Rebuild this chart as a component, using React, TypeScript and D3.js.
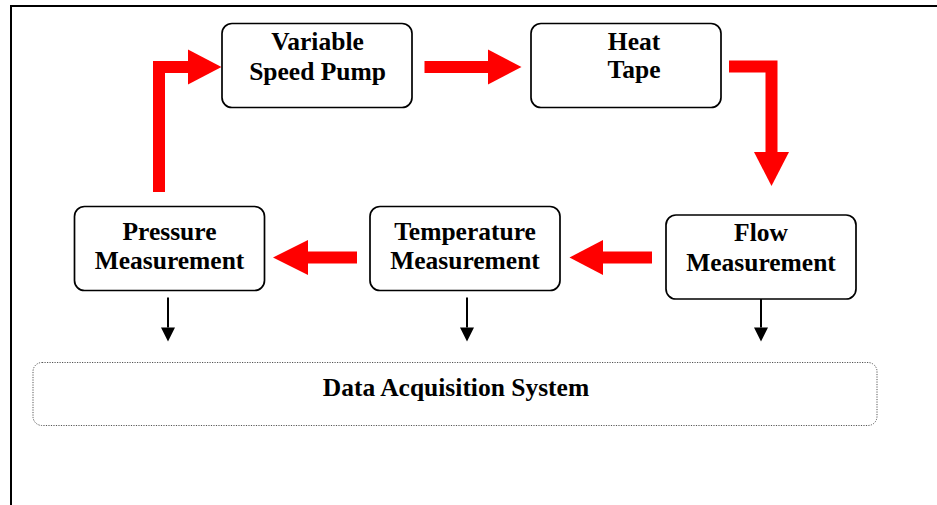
import React from "react";
import * as d3 from "d3";

// ---- data ----
const nodeIds = ["pump", "heat", "flow", "temp", "pressure"];
const nodeLines = [
  ["Variable", "Speed Pump"],
  ["Heat", "Tape"],
  ["Flow", "Measurement"],
  ["Temperature", "Measurement"],
  ["Pressure", "Measurement"],
];
const flowEdges = [
  ["pressure", "pump"],
  ["pump", "heat"],
  ["heat", "flow"],
  ["flow", "temp"],
  ["temp", "pressure"],
];
const sensorIds = ["pressure", "temp", "flow"];
const systemLabel = "Data Acquisition System";

// ---- layout (positions, not data) ----
const W = 937;
const H = 505;
const BOX_W = 190;
const BOX_H = 84;
const layout: Record<string, { cx: number; top: number; textX: number; textY: number; gap: number; sx: number }> = {
  pump: { cx: 317, top: 23.5, textX: 317.5, textY: 49.5, gap: 30, sx: 0 },
  heat: { cx: 626, top: 23.5, textX: 634, textY: 49.5, gap: 28.5, sx: 0 },
  pressure: { cx: 169.5, top: 206.5, textX: 169.5, textY: 239.5, gap: 29.5, sx: 168 },
  temp: { cx: 465, top: 206.5, textX: 465, textY: 239.5, gap: 29.5, sx: 467 },
  flow: { cx: 761, top: 215, textX: 761, textY: 241, gap: 30, sx: 761 },
};
const RED = "#ff0000";
const BAR = 12;
const HEAD_HALF = 17.5;
const HEAD_LEN = 33.5;
const FONT_SIZE = 25.5;

type Pt = [number, number];

function redArrowPaths(e: [string, string]): { bar: Pt[]; head: Pt[] } {
  const [a, b] = e;
  if (a === "pressure" && b === "pump") {
    const x = 159, yBot = 192, y = 67, xEnd = 188;
    return {
      bar: [[x, yBot], [x, y], [xEnd, y]],
      head: [[xEnd, y - HEAD_HALF], [xEnd + HEAD_LEN, y], [xEnd, y + HEAD_HALF]],
    };
  }
  if (a === "pump" && b === "heat") {
    const y = 67, x0 = 424.5, x1 = 488;
    return {
      bar: [[x0, y], [x1, y]],
      head: [[x1, y - HEAD_HALF], [x1 + HEAD_LEN, y], [x1, y + HEAD_HALF]],
    };
  }
  if (a === "heat" && b === "flow") {
    const x0 = 729, y = 66.5, x = 771.5, y1 = 152;
    return {
      bar: [[x0, y], [x, y], [x, y1]],
      head: [[x - HEAD_HALF, y1], [x, y1 + 34], [x + HEAD_HALF, y1]],
    };
  }
  if (a === "flow" && b === "temp") {
    const y = 257.5, x0 = 652, x1 = 603;
    return {
      bar: [[x0, y], [x1, y]],
      head: [[x1, y - HEAD_HALF], [x1 - HEAD_LEN, y], [x1, y + HEAD_HALF]],
    };
  }
  const y = 257.5, x0 = 357, x1 = 308;
  return {
    bar: [[x0, y], [x1, y]],
    head: [[x1, y - HEAD_HALF], [x1 - 35, y], [x1, y + HEAD_HALF]],
  };
}

export default function App() {
  const lineGen = d3.line<Pt>().x((d) => d[0]).y((d) => d[1]);
  const polyGen = d3.line<Pt>().x((d) => d[0]).y((d) => d[1]).curve(d3.curveLinearClosed);
  const font = "'Liberation Serif', 'Times New Roman', serif";

  const sys = { x: 33, y: 362.5, w: 844, h: 63 };

  return (
    <svg
      width={W}
      height={H}
      style={{ position: "absolute", left: 0, top: 0, background: "#fff" }}
    >
      <rect x={11} y={6} width={W + 20} height={H + 20} fill="none" stroke="#000" strokeWidth={2} />

      {flowEdges.map((e, i) => {
        const p = redArrowPaths(e as [string, string]);
        return (
          <g key={"r" + i}>
            <path d={lineGen(p.bar) || ""} fill="none" stroke={RED} strokeWidth={BAR} strokeLinejoin="miter" strokeLinecap="butt" />
            <path d={polyGen(p.head) || ""} fill={RED} stroke="none" />
          </g>
        );
      })}

      {nodeIds.map((id, i) => {
        const L = layout[id];
        return (
          <g key={id}>
            <rect
              x={L.cx - BOX_W / 2}
              y={L.top}
              width={BOX_W}
              height={BOX_H}
              rx={10}
              ry={10}
              fill="#fff"
              stroke="#000"
              strokeWidth={1.7}
            />
            {nodeLines[i].map((t, j) => (
              <text
                key={j}
                x={L.textX}
                y={L.textY + j * L.gap}
                textAnchor="middle"
                fontFamily={font}
                fontWeight="bold"
                fontSize={FONT_SIZE}
                fill="#000"
              >
                {t}
              </text>
            ))}
          </g>
        );
      })}

      {sensorIds.map((id) => {
        const L = layout[id];
        const x = L.sx;
        const y0 = Math.max(297.5, L.top + BOX_H);
        const yb = 327.5;
        const tip = 341.5;
        return (
          <g key={"s" + id}>
            <path d={lineGen([[x, y0], [x, yb]]) || ""} stroke="#000" strokeWidth={2} fill="none" />
            <path d={polyGen([[x - 7, yb], [x, tip], [x + 7, yb]]) || ""} fill="#000" />
          </g>
        );
      })}

      <rect
        x={sys.x}
        y={sys.y}
        width={sys.w}
        height={sys.h}
        rx={9}
        ry={9}
        fill="none"
        stroke="#555"
        strokeWidth={1}
        strokeDasharray="1.2 1.3"
      />
      <text
        x={456}
        y={396}
        textAnchor="middle"
        fontFamily={font}
        fontWeight="bold"
        fontSize={FONT_SIZE}
        fill="#000"
      >
        {systemLabel}
      </text>
    </svg>
  );
}
